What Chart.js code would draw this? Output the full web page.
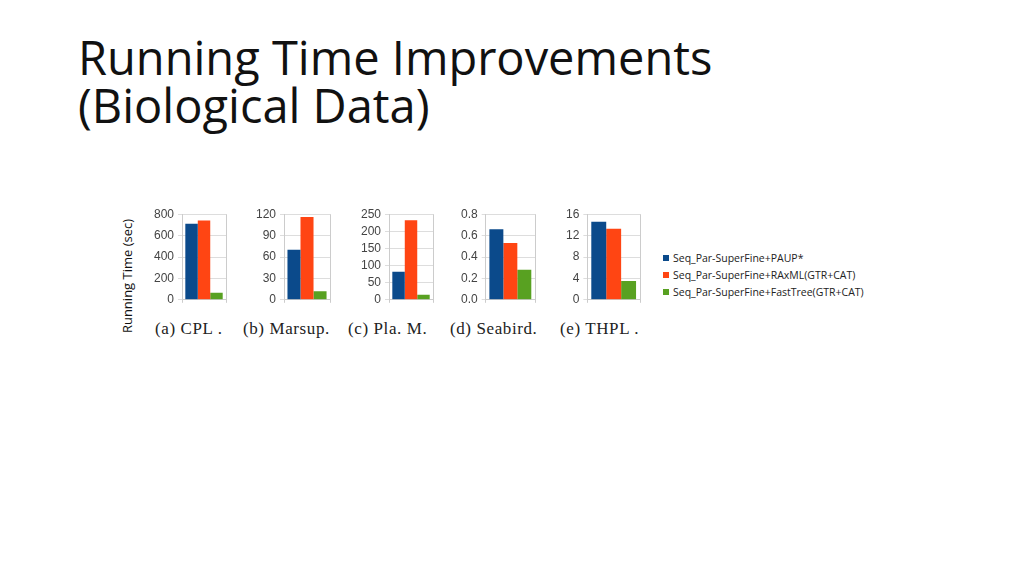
<!DOCTYPE html>
<html><head><meta charset="utf-8">
<script src="https://cdn.jsdelivr.net/npm/chart.js"></script>
<style>
body{margin:0;width:1024px;height:575px;background:#fff;position:relative;overflow:hidden;font-family:"Open Sans",sans-serif}
#title{position:absolute;left:78px;top:33px;font-size:47px;line-height:48px;color:#111}
.c{position:absolute}
.cap{position:absolute;top:319px;font-family:"Liberation Serif",serif;font-size:17px;letter-spacing:0.6px;color:#222;white-space:nowrap}
#ylab{position:absolute;left:127px;top:276px;transform:translate(-50%,-50%) rotate(-90deg);font-size:13px;white-space:nowrap;color:#111}
#legend{position:absolute;left:663px;top:250px;font-size:10.5px;color:#222;line-height:17px}
#legend span{display:inline-block;width:6px;height:6px;margin-right:4px;vertical-align:1px}
</style></head><body>
<div id="title">Running Time Improvements<br>(Biological Data)</div>
<div id="ylab">Running Time (sec)</div>
<div id="legend"></div>
<script>
const categories=["(a) CPL .","(b) Marsup.","(c) Pla.  M.","(d) Seabird.","(e) THPL ."];
const seriesNames=["Seq_Par-SuperFine+PAUP*","Seq_Par-SuperFine+RAxML(GTR+CAT)","Seq_Par-SuperFine+FastTree(GTR+CAT)"];
const paup=[710,70,82,0.66,14.6];
const raxml=[740,116,232,0.53,13.3];
const fasttree=[65,12,15,0.28,3.5];
const yMax=[800,120,250,0.8,16];
const yStep=[200,30,50,0.2,4];
const colors=["#0B4A8B","#FF4513","#58A121"];
const lefts=[150,252,357,457,562], widths=[78,80,78,80,80], capL=[155,243,348,450,560];
const leg=document.getElementById('legend');
seriesNames.forEach((n,i)=>{leg.innerHTML+='<div><span style="background:'+colors[i]+'"></span>'+n+'</div>';});
categories.forEach((cat,k)=>{
  const cv=document.createElement('canvas');cv.className='c';
  cv.style.left=lefts[k]+'px';cv.style.top='203px';cv.style.width=widths[k]+'px';cv.style.height='108px';
  cv.width=widths[k];cv.height=108;document.body.appendChild(cv);
  const cap=document.createElement('div');cap.className='cap';cap.style.left=capL[k]+'px';cap.textContent=cat;document.body.appendChild(cap);
  const vals=[paup,raxml,fasttree];
  new Chart(cv,{type:'bar',data:{labels:[cat],datasets:vals.map((v,i)=>({label:seriesNames[i],data:[v[k]],backgroundColor:colors[i]}))},
    options:{responsive:false,animation:false,layout:{padding:{top:6,right:2,bottom:4}},
      datasets:{bar:{categoryPercentage:0.85,barPercentage:1}},
      plugins:{legend:{display:false},tooltip:{enabled:false}},
      scales:{x:{ticks:{display:false},grid:{color:'#ccc',drawTicks:true,tickLength:3},border:{color:'#ccc'}},
        y:{min:0,max:yMax[k],ticks:{stepSize:yStep[k],color:'#444',font:{size:12},padding:4,
           callback:v=>k===3?v.toFixed(1):v},grid:{color:'#ddd',tickLength:4},border:{color:'#ccc'}}}}});
});
</script></body></html>
